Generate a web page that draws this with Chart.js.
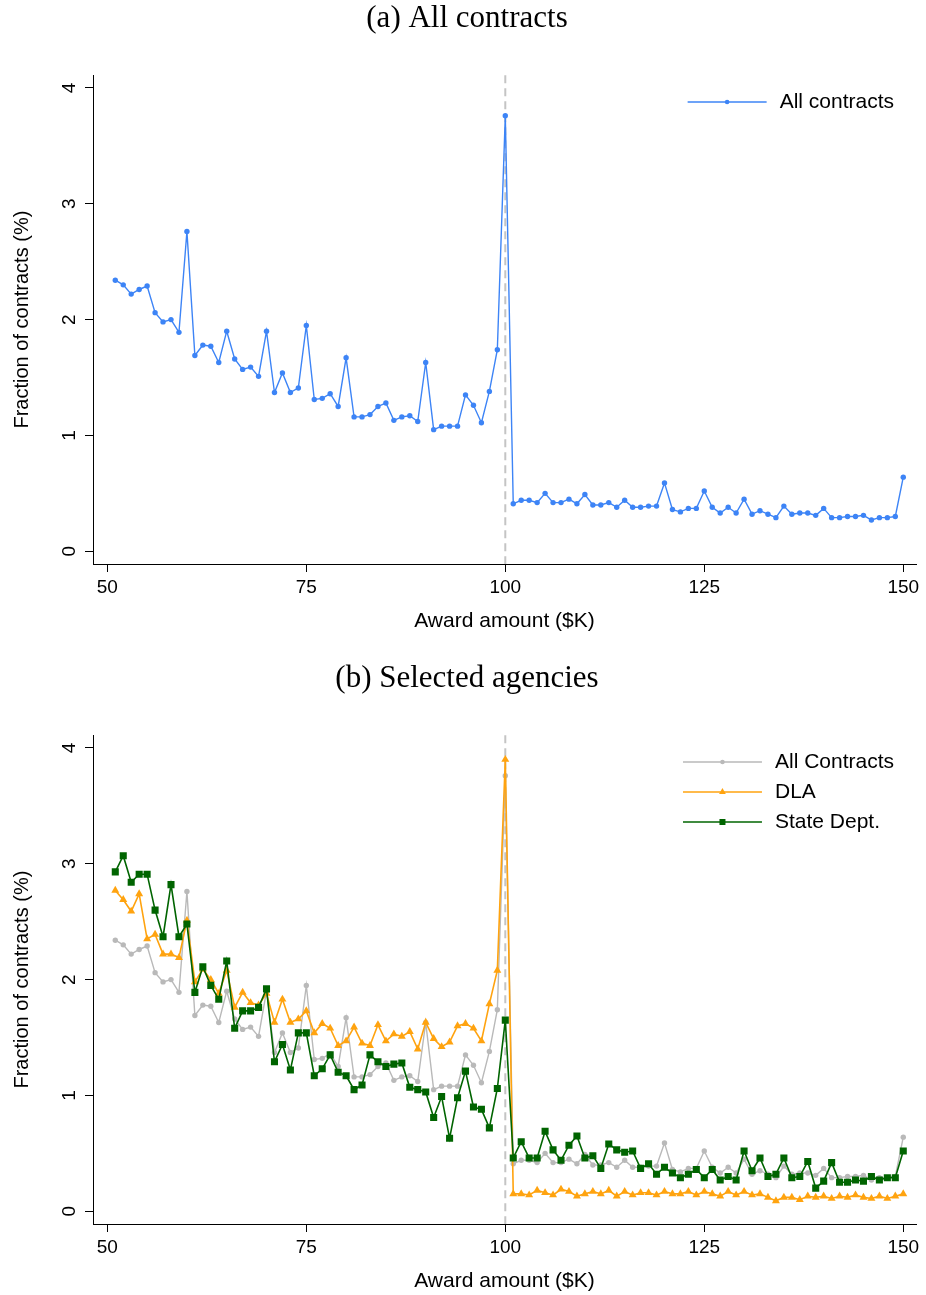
<!DOCTYPE html>
<html>
<head>
<meta charset="utf-8">
<script src="https://cdn.jsdelivr.net/npm/chart.js"></script>
<style>
body { margin: 0; background: #fff; }
.panel { position: absolute; left: 0; width: 926px; height: 635px; }
</style>
</head>
<body>
<div class="panel" style="top:0"><canvas id="panelA" width="926" height="635"></canvas></div>
<div class="panel" style="top:660px"><canvas id="panelB" width="926" height="635"></canvas></div>
<script>
// award amounts in $K (bins)
const awards = [
  51, 52, 53, 54, 55, 56, 57, 58, 59, 60,
  61, 62, 63, 64, 65, 66, 67, 68, 69, 70,
  71, 72, 73, 74, 75, 76, 77, 78, 79, 80,
  81, 82, 83, 84, 85, 86, 87, 88, 89, 90,
  91, 92, 93, 94, 95, 96, 97, 98, 99, 100,
  101, 102, 103, 104, 105, 106, 107, 108, 109, 110,
  111, 112, 113, 114, 115, 116, 117, 118, 119, 120,
  121, 122, 123, 124, 125, 126, 127, 128, 129, 130,
  131, 132, 133, 134, 135, 136, 137, 138, 139, 140,
  141, 142, 143, 144, 145, 146, 147, 148, 149, 150
];

const allContracts = [
  2.34, 2.30, 2.22, 2.26, 2.29, 2.06, 1.98, 2.00, 1.89, 2.76,
  1.69, 1.78, 1.77, 1.63, 1.90, 1.66, 1.57, 1.59, 1.51, 1.90,
  1.37, 1.54, 1.37, 1.41, 1.95, 1.31, 1.32, 1.36, 1.25, 1.67,
  1.16, 1.16, 1.18, 1.25, 1.28, 1.13, 1.16, 1.17, 1.12, 1.63,
  1.05, 1.08, 1.08, 1.08, 1.35, 1.26, 1.11, 1.38, 1.74, 3.76,
  0.41, 0.44, 0.44, 0.42, 0.50, 0.42, 0.42, 0.45, 0.41, 0.49,
  0.40, 0.40, 0.42, 0.38, 0.44, 0.38, 0.38, 0.39, 0.39, 0.59,
  0.36, 0.34, 0.37, 0.37, 0.52, 0.38, 0.33, 0.38, 0.33, 0.45,
  0.32, 0.35, 0.32, 0.29, 0.39, 0.32, 0.33, 0.33, 0.31, 0.37,
  0.29, 0.29, 0.30, 0.30, 0.31, 0.27, 0.29, 0.29, 0.30, 0.64
];

const dla = [
  2.77, 2.69, 2.59, 2.74, 2.35, 2.39, 2.22, 2.22, 2.19, 2.51,
  1.98, 2.09, 2.00, 1.88, 2.08, 1.76, 1.89, 1.80, 1.78, 1.88,
  1.63, 1.83, 1.63, 1.66, 1.73, 1.54, 1.62, 1.58, 1.43, 1.47,
  1.59, 1.45, 1.43, 1.61, 1.47, 1.53, 1.51, 1.55, 1.40, 1.63,
  1.49, 1.42, 1.46, 1.60, 1.62, 1.58, 1.47, 1.79, 2.08, 3.90,
  0.15, 0.15, 0.14, 0.18, 0.16, 0.14, 0.19, 0.17, 0.13, 0.15,
  0.17, 0.15, 0.18, 0.13, 0.17, 0.14, 0.16, 0.16, 0.14, 0.17,
  0.15, 0.15, 0.17, 0.14, 0.17, 0.15, 0.13, 0.17, 0.14, 0.17,
  0.14, 0.15, 0.12, 0.09, 0.12, 0.12, 0.10, 0.13, 0.12, 0.13,
  0.11, 0.13, 0.12, 0.14, 0.12, 0.11, 0.13, 0.11, 0.13, 0.15
];

const stateDept = [
  2.93, 3.07, 2.84, 2.91, 2.91, 2.60, 2.37, 2.82, 2.37, 2.48,
  1.89, 2.11, 1.95, 1.83, 2.16, 1.58, 1.73, 1.73, 1.76, 1.92,
  1.29, 1.44, 1.22, 1.54, 1.54, 1.17, 1.23, 1.35, 1.20, 1.17,
  1.05, 1.09, 1.35, 1.29, 1.25, 1.27, 1.28, 1.07, 1.05, 1.03,
  0.81, 0.99, 0.63, 0.98, 1.21, 0.90, 0.88, 0.72, 1.06, 1.65,
  0.46, 0.60, 0.46, 0.46, 0.69, 0.53, 0.44, 0.57, 0.65, 0.46,
  0.48, 0.37, 0.58, 0.53, 0.51, 0.52, 0.37, 0.41, 0.32, 0.38,
  0.33, 0.29, 0.32, 0.36, 0.29, 0.36, 0.27, 0.30, 0.27, 0.52,
  0.35, 0.46, 0.30, 0.32, 0.46, 0.29, 0.30, 0.43, 0.20, 0.26,
  0.42, 0.25, 0.25, 0.27, 0.26, 0.30, 0.27, 0.29, 0.29, 0.52
];

const xTicks = [50, 75, 100, 125, 150];
const yTicks = [0, 1, 2, 3, 4];
const cutoff = 100;

const sans = 'Liberation Sans, Arial, Helvetica, sans-serif';
const serif = 'Liberation Serif, Times New Roman, serif';

const pts = vals => vals.map((v, i) => ({ x: awards[i], y: v }));

// dashed gray line at the $100K threshold, under the series
const cutoffLine = {
  id: 'cutoffLine',
  beforeDatasetsDraw(chart) {
    const { ctx, chartArea, scales } = chart;
    const x = scales.x.getPixelForValue(cutoff);
    ctx.save();
    ctx.strokeStyle = '#c4c4c4';
    ctx.lineWidth = 2;
    ctx.setLineDash([8, 5]);
    ctx.beginPath();
    ctx.moveTo(x, chartArea.top);
    ctx.lineTo(x, chartArea.bottom);
    ctx.stroke();
    ctx.restore();
  }
};

// legend inside the plot, top right, stata style
const insideLegend = {
  id: 'insideLegend',
  afterDraw(chart, args, opts) {
    const ctx = chart.ctx;
    const sets = chart.data.datasets;
    ctx.save();
    ctx.font = '21px ' + sans;
    const textW = Math.max(...sets.map(d => ctx.measureText(d.label).width));
    const textX = opts.right - textW;
    const x1 = textX - 13;
    const x0 = x1 - 79;
    sets.forEach((d, i) => {
      const y = opts.top + i * 30;
      ctx.strokeStyle = d.borderColor;
      ctx.lineWidth = d.borderWidth;
      ctx.beginPath();
      ctx.moveTo(x0, y);
      ctx.lineTo(x1, y);
      ctx.stroke();
      ctx.fillStyle = d.pointBackgroundColor;
      ctx.strokeStyle = d.pointBackgroundColor;
      Chart.helpers.drawPoint(ctx, {
        pointStyle: d.pointStyle,
        radius: d.pointRadius * 0.85,
        rotation: 0,
        borderWidth: 0
      }, (x0 + x1) / 2, y);
      ctx.fillStyle = '#000';
      ctx.textBaseline = 'middle';
      ctx.textAlign = 'left';
      ctx.fillText(d.label, textX, y);
    });
    ctx.restore();
  }
};

function axisGrid() {
  return {
    display: true,
    drawOnChartArea: false,
    drawTicks: true,
    tickLength: 8,
    tickColor: '#000',
    tickWidth: 1
  };
}

function makeScales() {
  return {
    x: {
      type: 'linear',
      min: 48.2,
      max: 151.6,
      afterBuildTicks: s => { s.ticks = xTicks.map(v => ({ value: v })); },
      afterFit: s => { s.height = 71; },
      grid: axisGrid(),
      border: { display: true, color: '#000', width: 1 },
      ticks: {
        color: '#000',
        font: { family: sans, size: 19 },
        padding: 4,
        maxRotation: 0,
        autoSkip: false
      },
      title: {
        display: true,
        text: 'Award amount ($K)',
        color: '#000',
        font: { family: sans, size: 21 },
        padding: { top: 0, bottom: 1 }
      }
    },
    y: {
      type: 'linear',
      min: -0.11,
      max: 4.11,
      afterBuildTicks: s => { s.ticks = yTicks.map(v => ({ value: v })); },
      // layout padding left is 18, so 75 here puts the axis at x=93
      afterFit: s => { s.width = 75; },
      grid: axisGrid(),
      border: { display: true, color: '#000', width: 1 },
      ticks: {
        color: '#000',
        font: { family: sans, size: 19 },
        padding: 10,
        minRotation: 90,
        maxRotation: 90,
        crossAlign: 'center'
      },
      title: {
        display: true,
        text: 'Fraction of contracts (%)',
        color: '#000',
        font: { family: sans, size: 20 },
        padding: { top: -8, bottom: 0 }
      }
    }
  };
}

function makeOptions(titleText) {
  return {
    responsive: false,
    animation: false,
    layout: { padding: { left: 18, right: 10, top: 0, bottom: 0 } },
    scales: makeScales(),
    plugins: {
      legend: { display: false },
      tooltip: { enabled: false },
      title: {
        display: true,
        text: titleText,
        color: '#000',
        font: { family: serif, size: 31, weight: 'normal' },
        padding: { top: 0, bottom: 38 }
      },
      insideLegend: { right: 894, top: 102 }
    }
  };
}

new Chart(document.getElementById('panelA'), {
  type: 'line',
  data: {
    datasets: [{
      label: 'All contracts',
      data: pts(allContracts),
      borderColor: '#3d84f6',
      backgroundColor: '#3d84f6',
      pointBackgroundColor: '#3d84f6',
      pointBorderWidth: 0,
      pointRadius: 2.7,
      pointStyle: 'circle',
      borderWidth: 1.4,
      tension: 0
    }]
  },
  options: makeOptions('(a) All contracts'),
  plugins: [cutoffLine, insideLegend]
});

new Chart(document.getElementById('panelB'), {
  type: 'line',
  data: {
    datasets: [{
      label: 'All Contracts',
      data: pts(allContracts),
      borderColor: '#b9b9b9',
      backgroundColor: '#b9b9b9',
      pointBackgroundColor: '#b9b9b9',
      pointBorderWidth: 0,
      pointRadius: 2.7,
      pointStyle: 'circle',
      borderWidth: 1.4,
      order: 3
    }, {
      label: 'DLA',
      data: pts(dla),
      borderColor: '#ffa30f',
      backgroundColor: '#ffa30f',
      pointBackgroundColor: '#ffa30f',
      pointBorderWidth: 0,
      pointRadius: 4.6,
      pointStyle: 'triangle',
      borderWidth: 1.6,
      order: 2
    }, {
      label: 'State Dept.',
      data: pts(stateDept),
      borderColor: '#006400',
      backgroundColor: '#006400',
      pointBackgroundColor: '#006400',
      pointBorderWidth: 0,
      pointRadius: 5,
      pointStyle: 'rect',
      borderWidth: 1.6,
      order: 1
    }]
  },
  options: makeOptions('(b) Selected agencies'),
  plugins: [cutoffLine, insideLegend]
});
</script>
</body>
</html>
